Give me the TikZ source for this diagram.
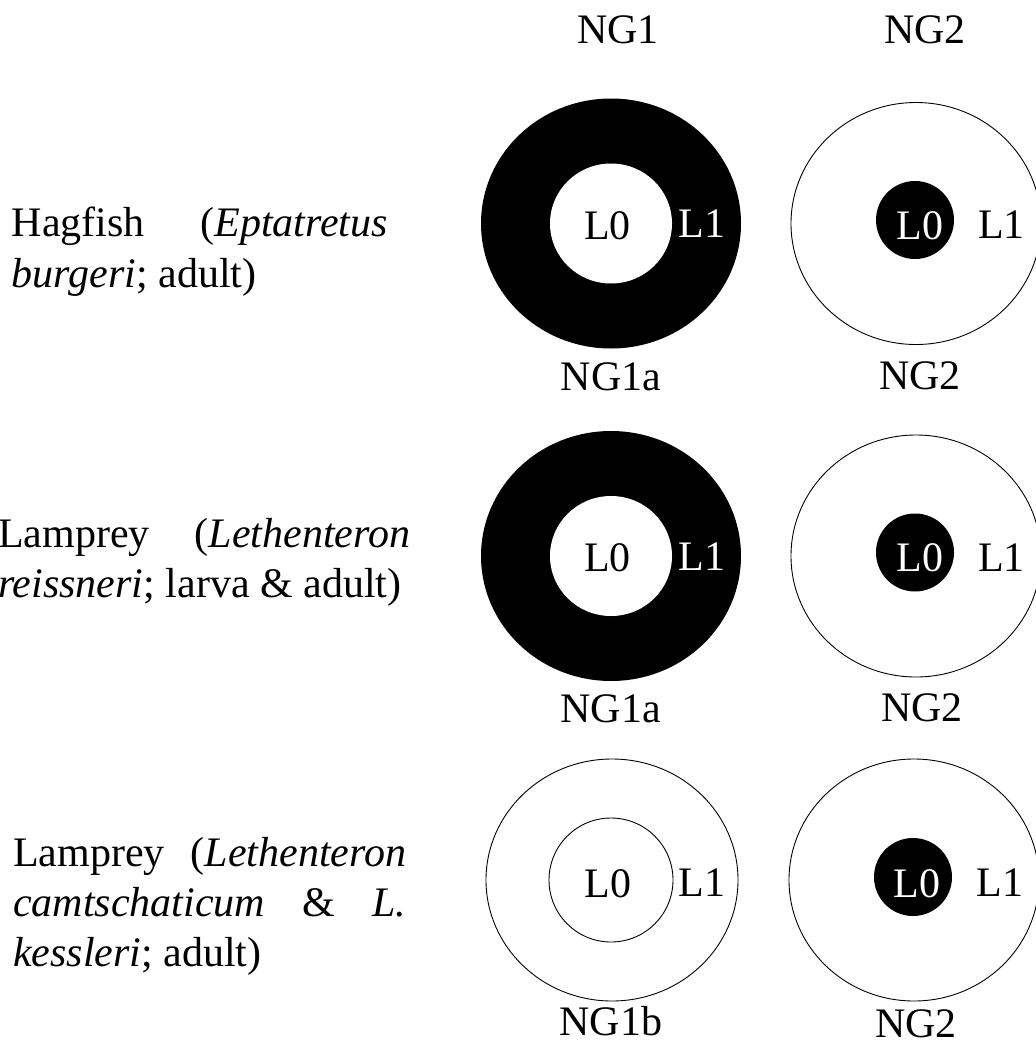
\documentclass[tikz,border=0pt]{standalone}
\usepackage{fontspec}
\setmainfont{Liberation Serif}
\begin{document}
\begin{tikzpicture}[x=1pt,y=-1pt,
  txt/.style={inner sep=0pt, anchor=base, font=\fontsize{42}{50}\selectfont},
  ltxt/.style={txt, anchor=base west},
  wtxt/.style={txt, text=white},
  ring/.style={draw=black, line width=0.9pt},
  blob/.style={fill=black},
  hole/.style={fill=white}]
\useasboundingbox (0,0) rectangle (1036,1047);
\clip (0,0) rectangle (1036,1047);

% column headers
\node[txt] (hNG1) at (618,43) {NG1};
\node[txt] (hNG2) at (925,43) {NG2};

% ---------- row 1 : Hagfish ----------
\fill[blob] (611,223.5) ellipse [x radius=130pt, y radius=125pt];
\fill[hole] (611,223.5) ellipse [x radius=61pt, y radius=60pt];
\draw[ring] (916,223.5) ellipse [x radius=125pt, y radius=121pt];
\fill[blob] (915,220) circle [radius=39pt];
\node[txt]  (r1L0a) at (607.5,239) {L0};
\node[wtxt] (r1L1a) at (702,237.5) {L1};
\node[wtxt] (r1L0b) at (920,239) {L0};
\node[txt]  (r1L1b) at (1001.5,238.5) {L1};
\node[txt]  (r1NGa) at (611,390) {NG1a};
\node[txt]  (r1NGb) at (920,389) {NG2};
\node[ltxt] (r1t1) at (11.7,236) {\hbox to 376pt{Hagfish\hfill(\textit{Eptatretus}}};
\node[ltxt] (r1t2) at (11.7,287) {\textit{burgeri}; adult)};

% ---------- row 2 : Lamprey (L. reissneri) ----------
\fill[blob] (611,556) ellipse [x radius=130pt, y radius=125pt];
\fill[hole] (611,556) ellipse [x radius=61pt, y radius=60pt];
\draw[ring] (916,556) ellipse [x radius=125pt, y radius=121pt];
\fill[blob] (915,552.5) circle [radius=39pt];
\node[txt]  (r2L0a) at (607.5,571.5) {L0};
\node[wtxt] (r2L1a) at (702,570) {L1};
\node[wtxt] (r2L0b) at (920,571.5) {L0};
\node[txt]  (r2L1b) at (1001.5,571) {L1};
\node[txt]  (r2NGa) at (610.5,722) {NG1a};
\node[txt]  (r2NGb) at (922,721) {NG2};
\node[ltxt] (r2t1) at (-2,547) {\hbox to 412pt{Lamprey\hfill(\textit{Lethenteron}}};
\node[ltxt] (r2t2) at (-2,597) {\textit{reissneri}; larva \& adult)};

% ---------- row 3 : Lamprey (L. camtschaticum & L. kessleri) ----------
\draw[ring] (612,880) ellipse [x radius=126pt, y radius=121pt];
\draw[ring] (611,880) circle [radius=62pt];
\draw[ring] (914,880) ellipse [x radius=125pt, y radius=121pt];
\fill[blob] (913,877) circle [radius=39pt];
\node[txt]  (r3L0a) at (608,897) {L0};
\node[txt]  (r3L1a) at (702,896) {L1};
\node[wtxt] (r3L0b) at (917,897) {L0};
\node[txt]  (r3L1b) at (1000,896.5) {L1};
\node[txt]  (r3NGa) at (611,1035) {NG1b};
\node[txt]  (r3NGb) at (916,1037) {NG2};
\node[ltxt] (r3t1) at (13,866) {\hbox to 393pt{Lamprey\hfill(\textit{Lethenteron}}};
\node[ltxt] (r3t2) at (13,916) {\hbox to 393pt{\textit{camtschaticum}\hfill\&\hfill\textit{L.}}};
\node[ltxt] (r3t3) at (13,966) {\textit{kessleri}; adult)};
\end{tikzpicture}
\end{document}
